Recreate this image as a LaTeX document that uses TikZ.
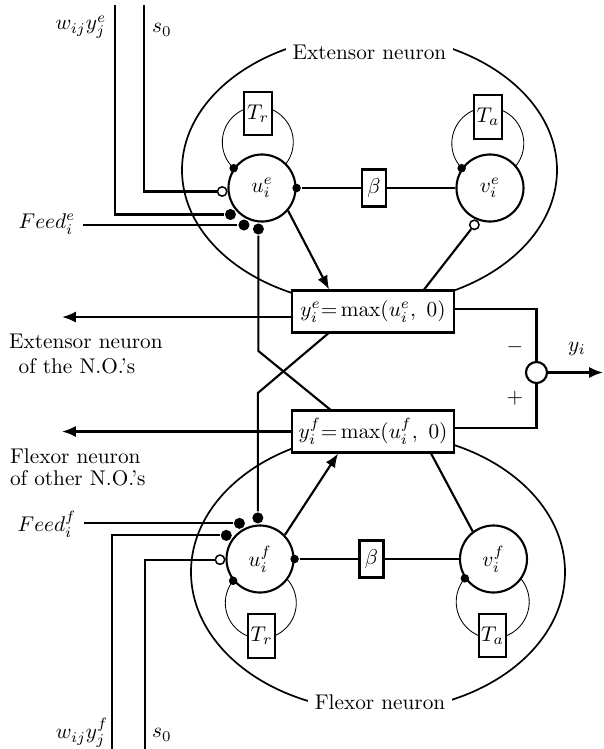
\documentclass[tikz,border=0pt]{standalone}
\usepackage{amsmath}
\usepackage{tikz}
\usetikzlibrary{arrows.meta,calc,backgrounds}

\begin{document}
\begin{tikzpicture}[
    x=0.47pt, y=-0.47pt,
    line width=1pt,
    neuron/.style={draw, circle, fill=white, minimum size=31.5pt, inner sep=0pt},
    gain/.style={draw, rectangle, fill=white, minimum width=13pt, minimum height=20.5pt, inner sep=0pt},
    betabox/.style={draw, rectangle, fill=white, minimum width=11.3pt, minimum height=17.4pt, inner sep=0pt},
    outbox/.style={draw, rectangle, fill=white, minimum width=76pt, minimum height=19.7pt, inner sep=0pt},
    sumnode/.style={draw, circle, fill=white, minimum size=9.9pt, inner sep=0pt},
    fdot/.style={circle, fill=black, minimum size=5.2pt, inner sep=0pt},
    sdot/.style={circle, fill=black, minimum size=4pt, inner sep=0pt},
    odot/.style={draw, circle, fill=white, minimum size=4.4pt, inner sep=0pt, line width=0.7pt},
    >={Latex[length=6.5pt,width=5.2pt]}
]
\useasboundingbox (0,0) rectangle (604,749);

% extensor half-centre
\node[neuron] (ue) at (262,188) {$u_i^e$};
\node[neuron] (ve) at (490,188) {$v_i^e$};
\node[gain] (tre) at (258,113.5) {$T_r$};
\node[gain] (tae) at (488,117) {$T_a$};
\node[betabox] (be) at (374,188) {$\beta$};
\node[fill=white, inner ysep=5pt] (extlbl) at (369.5,52) {Extensor neuron};

% outputs
\node[outbox] (ye) at (373,311.5) {$y_i^e{=}\max(u_i^e,\ 0)$};
\node[outbox] (yf) at (373,431.5) {$y_i^f{=}\max(u_i^f,\ 0)$};
\node[sumnode] (sum) at (536.5,372.5) {};
\node (minus) at (515,347) {$-$};
\node (plus) at (515,398) {$+$};
\node (yi) at (577,349) {$y_i$};
\node[anchor=west, align=left, inner sep=0pt] (extout) at (8,354) {Extensor neuron\\\hspace*{4.5pt}of the N.O.'s};
\node[anchor=west, align=left, inner sep=0pt] (flxout) at (9,467.5) {Flexor neuron\\[-1.5pt]of other N.O.'s};

% flexor half-centre
\node[neuron] (uf) at (260,559) {$u_i^f$};
\node[neuron] (vf) at (493.5,559) {$v_i^f$};
\node[gain] (trf) at (261.5,636) {$T_r$};
\node[gain] (taf) at (492.5,635.5) {$T_a$};
\node[betabox] (bf) at (371.5,559) {$\beta$};
\node[fill=white, inner ysep=5pt] (flxlbl) at (380,702) {Flexor neuron};

% input labels
\node (wine) at (81,27) {$w_{ij}y_j^e$};
\node (sine) at (162,30) {$s_0$};
\node (feede) at (47,224) {$Feed_i^e$};
\node (feedf) at (47,524) {$Feed_i^f$};
\node (winf) at (82,733) {$w_{ij}y_j^f$};
\node (sinf) at (162,735) {$s_0$};

% synapses
\node[sdot] (lue) at (ue.145.5) {};
\node[sdot] (lve) at (ve.145.7) {};
\node[sdot] (luf) at (uf.219.6) {};
\node[sdot] (lvf) at (vf.214.9) {};
\node[sdot] (rue) at (ue.east) {};
\node[sdot] (ruf) at (uf.east) {};
\node[odot, anchor=5.9] (se) at (ue.185.9) {};
\node[fdot, anchor=40.8] (we) at (ue.220.8) {};
\node[fdot, anchor=64.7] (fe) at (ue.244.7) {};
\node[fdot, anchor=85.4] (xe) at (ue.265.4) {};
\node[odot, anchor=67] (ove) at (ve.247) {};
\node[odot, anchor=1.5] (sf) at (uf.181.5) {};
\node[fdot, anchor=325.9] (wf) at (uf.145.9) {};
\node[fdot, anchor=300.5] (ff) at (uf.120.5) {};
\node[fdot, anchor=273] (xf) at (uf.93) {};

\coordinate (wtope) at (115,5);
\coordinate (stope) at (144,5);
\coordinate (wbotf) at (112,749);
\coordinate (sbotf) at (145,749);
\coordinate (kne) at (258,351);
\coordinate (knf) at (258,393);
\coordinate (outl) at (62,0);
\coordinate (yout) at (603,372.5);
\coordinate (yeo) at ([yshift=-2.6pt]ye.west);
\coordinate (yer) at ([yshift=1.2pt]ye.east);
\coordinate (yfr) at ([yshift=1.6pt]yf.east);

\draw (wtope) |- (we.west);
\draw (stope) |- (se.west);
\draw (fe.west) -- (fe.west -| feede.east);
\draw (wbotf) |- (wf.west);
\draw (sbotf) |- (sf.west);
\draw (ff.west) -- (ff.west -| feedf.east);

\draw (rue) -- (be.west);
\draw (be.east) -- (ve.west);
\draw (ruf) -- (bf.west);
\draw (bf.east) -- (vf.west);

\draw[->] (ue.-41) -- ($(ye.north west)+(38,0)$);
\draw[->] (uf.44) -- ($(yf.south west)+(47,0)$);
\draw (ove.233) -- ($(ye.north west)+(133,0)$);
\draw (vf.127) -- ($(yf.south west)+(140,0)$);
\draw (xe) -- (xe |- kne) -- ($(yf.north west)+(39,0)$);
\draw ($(ye.south west)+(37,0)$) -- (xf |- knf) -- (xf);

\draw[->] (yeo) -- (yeo -| outl);
\draw[->] (yf.west) -- (yf.west -| outl);
\draw (yer) -| (sum.north);
\draw (yfr) -| (sum.south);
\draw[->] (sum.east) -- (yout);

\begin{scope}[on background layer]
\draw[line width=0.8pt] (369.5,170) ellipse [x radius=187.5, y radius=135];
\draw[line width=0.8pt] (378,572) ellipse [x radius=187, y radius=139];
% self-feedback loops
\draw (lue) arc[start angle=-227.2, end angle=38.3, radius=35.5];
\draw (lve) arc[start angle=-223.5, end angle=38.4, radius=36];
\draw (luf) arc[start angle=-141.2, end angle=-402.7, radius=35.5];
\draw (lvf) arc[start angle=-139.8, end angle=-400.2, radius=36.5];
\end{scope}
\end{tikzpicture}
\end{document}
